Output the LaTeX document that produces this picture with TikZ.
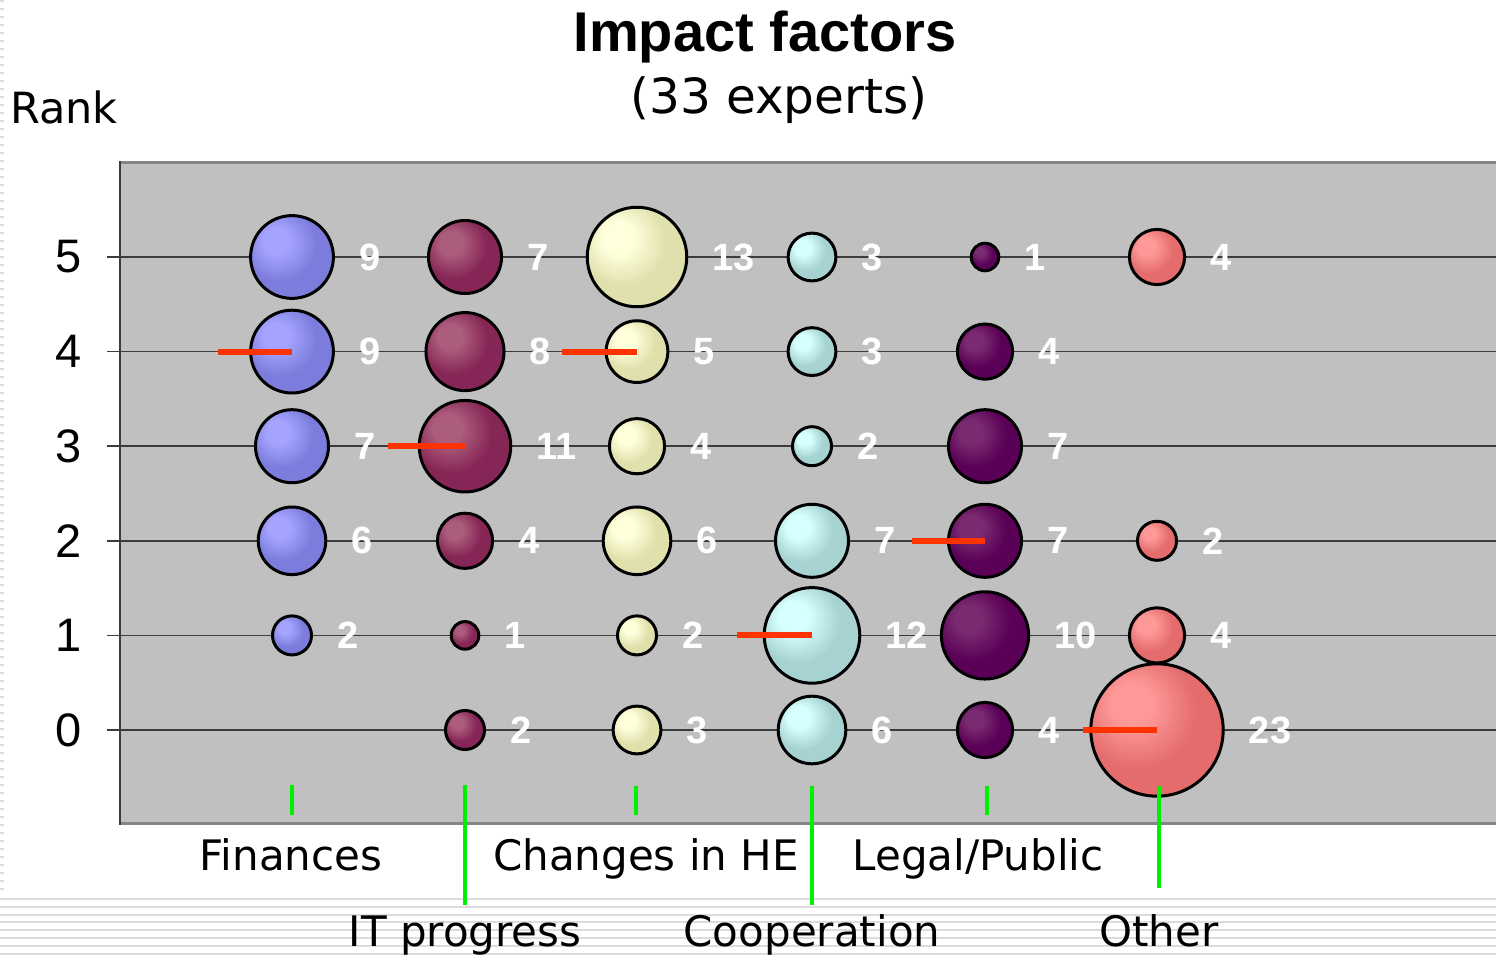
\documentclass[tikz,border=0pt]{standalone}
\usepackage{fontspec}
\setmainfont{DejaVu Sans}
\newfontfamily\arialfont{Liberation Sans}
\usetikzlibrary{positioning}
\definecolor{xgrey}{HTML}{C0C0C0}
\definecolor{xframe}{HTML}{858585}
\definecolor{xgrid}{HTML}{3C3C3C}
\definecolor{xmean}{HTML}{FF3300}
\definecolor{xmark}{HTML}{00F000}
\definecolor{xstripe}{HTML}{DCDCDC}
%% bubble colours (highlight, body, rim)
\definecolor{finhi}{HTML}{A4A4FF}
\definecolor{finmid}{HTML}{7C7CDC}
\definecolor{finlo}{HTML}{5E5EAA}
\definecolor{ithi}{HTML}{AC5C7C}
\definecolor{itmid}{HTML}{862656}
\definecolor{itlo}{HTML}{5E1A40}
\definecolor{chghi}{HTML}{FFFFDC}
\definecolor{chgmid}{HTML}{E0E0AC}
\definecolor{chglo}{HTML}{AAAA80}
\definecolor{coophi}{HTML}{D6FFFF}
\definecolor{coopmid}{HTML}{A6D2D2}
\definecolor{cooplo}{HTML}{86ACAC}
\definecolor{leghi}{HTML}{7A2A70}
\definecolor{legmid}{HTML}{5A0056}
\definecolor{leglo}{HTML}{3E0036}
\definecolor{othhi}{HTML}{FF9898}
\definecolor{othmid}{HTML}{E46C6C}
\definecolor{othlo}{HTML}{AA5656}
\colorlet{bubhi}{finhi}
\colorlet{bubmid}{finmid}
\colorlet{bublo}{finlo}
\pgfdeclareradialshading[bubhi,bubmid,bublo]{bubble}{\pgfpoint{-11bp}{11bp}}{%
  color(0bp)=(bubhi); color(8bp)=(bubhi); color(22bp)=(bubmid);
  color(34bp)=(bubmid); color(42bp)=(bublo); color(66bp)=(bublo)}
\tikzset{
  %% Styles %%
  bubble/.style = {circle, draw=black, line width=3pt, shading=bubble,
    inner sep=0pt, minimum size={27.6pt*sqrt(#1)}},
  bubcount/.style = {font=\arialfont\bfseries\fontsize{38}{38}\selectfont,
    text=white, inner sep=0pt},
  meanbar/.style = {xmean, line width=6pt},
  colmark/.style = {xmark, line width=4.5pt},
  catlabel/.style = {font=\fontsize{42}{42}\selectfont, anchor=base, inner sep=0pt},
  ranklabel/.style = {font=\arialfont\fontsize{47}{47}\selectfont, inner sep=0pt},
  gridline/.style = {xgrid, line width=1.5pt},
}
\begin{document}
\begin{tikzpicture}[x=1pt, y=-1pt]
  \useasboundingbox (0,0) rectangle (1496,957);

  % slide background
  \foreach \yy in {899,906.8,...,957}
    \draw[xstripe, line width=2pt] (0,\yy) -- (1496,\yy);
  \draw[xstripe, line width=4pt, dash pattern=on 2pt off 6pt] (2,0) -- (2,893);

  % titles
  \node[font=\arialfont\bfseries\fontsize{56}{56}\selectfont, anchor=base, inner sep=0pt] (title) at (765,52) {Impact factors};
  \node[font=\fontsize{48.5}{48.5}\selectfont, anchor=base, inner sep=0pt] (subtitle) at (779,114) {(33 experts)};
  \node[font=\fontsize{43}{43}\selectfont, anchor=base west, inner sep=0pt] (rank) at (10,124) {Rank};

  % plot area
  \fill[xgrey] (120,162) rectangle (1496,823);
  \draw[xframe, line width=3pt] (120,163) -- (1496,163);
  \draw[xframe, line width=3pt] (120,823) -- (1496,823);
  \draw[xgrid, line width=2pt] (120,161.5) -- (120,824.5);
  \foreach \rk in {0,...,5} {
    \draw[gridline] (107,{730-94.6*\rk}) -- (1496,{730-94.6*\rk});
    \node[ranklabel] (r\rk) at (69,{730-94.6*\rk}) {\rk};
  }

  % bubbles
  \colorlet{bubhi}{finhi}\colorlet{bubmid}{finmid}\colorlet{bublo}{finlo}
  \foreach \rk/\n in {5/9,4/9,3/7,2/6,1/2} {
    \node[bubble=\n] (fin\rk) at (292,{730-94.6*\rk}) {};
    \node[bubcount, right=24pt of fin\rk] {\n};
  }
  \colorlet{bubhi}{ithi}\colorlet{bubmid}{itmid}\colorlet{bublo}{itlo}
  \foreach \rk/\n in {5/7,4/8,3/11,2/4,1/1,0/2} {
    \node[bubble=\n] (it\rk) at (465,{730-94.6*\rk}) {};
    \node[bubcount, right=24pt of it\rk] {\n};
  }
  \colorlet{bubhi}{chghi}\colorlet{bubmid}{chgmid}\colorlet{bublo}{chglo}
  \foreach \rk/\n in {5/13,4/5,3/4,2/6,1/2,0/3} {
    \node[bubble=\n] (chg\rk) at (637,{730-94.6*\rk}) {};
    \node[bubcount, right=24pt of chg\rk] {\n};
  }
  \colorlet{bubhi}{coophi}\colorlet{bubmid}{coopmid}\colorlet{bublo}{cooplo}
  \foreach \rk/\n in {5/3,4/3,3/2,2/7,1/12,0/6} {
    \node[bubble=\n] (coop\rk) at (812,{730-94.6*\rk}) {};
    \node[bubcount, right=24pt of coop\rk] {\n};
  }
  \colorlet{bubhi}{leghi}\colorlet{bubmid}{legmid}\colorlet{bublo}{leglo}
  \foreach \rk/\n in {5/1,4/4,3/7,2/7,1/10,0/4} {
    \node[bubble=\n] (leg\rk) at (985,{730-94.6*\rk}) {};
    \node[bubcount, right=24pt of leg\rk] {\n};
  }
  \colorlet{bubhi}{othhi}\colorlet{bubmid}{othmid}\colorlet{bublo}{othlo}
  \foreach \rk/\n in {5/4,2/2,1/4,0/23} {
    \node[bubble=\n] (oth\rk) at (1157,{730-94.6*\rk}) {};
    \node[bubcount, right=24pt of oth\rk] {\n};
  }

  % mean marks
  \draw[meanbar] (fin4.center) -- ++(-74,0);
  \draw[meanbar] (it3.center) -- ++(-77,0);
  \draw[meanbar] (chg4.center) -- ++(-75,0);
  \draw[meanbar] (coop1.center) -- ++(-75,0);
  \draw[meanbar] (leg2.center) -- ++(-73,0);
  \draw[meanbar] (oth0.center) -- ++(-74,0);

  % category labels
  \node[catlabel] (finl) at (291,870) {Finances};
  \node[catlabel] (chgl) at (646,870) {Changes in HE};
  \node[catlabel] (legl) at (978,870) {Legal/Public};
  \node[catlabel] (itl) at (465,946) {IT progress};
  \node[catlabel] (coopl) at (812,946) {Cooperation};
  \node[catlabel] (othl) at (1159,946) {Other};

  % column marks
  \draw[colmark] (292,785) -- (292,815);
  \draw[colmark] (636,786) -- (636,815);
  \draw[colmark] (987,786) -- (987,815);
  \draw[colmark] (465,785) -- (465,905);
  \draw[colmark] (812,786) -- (812,905);
  \draw[colmark] (1159,786) -- (1159,888);
\end{tikzpicture}
\end{document}
